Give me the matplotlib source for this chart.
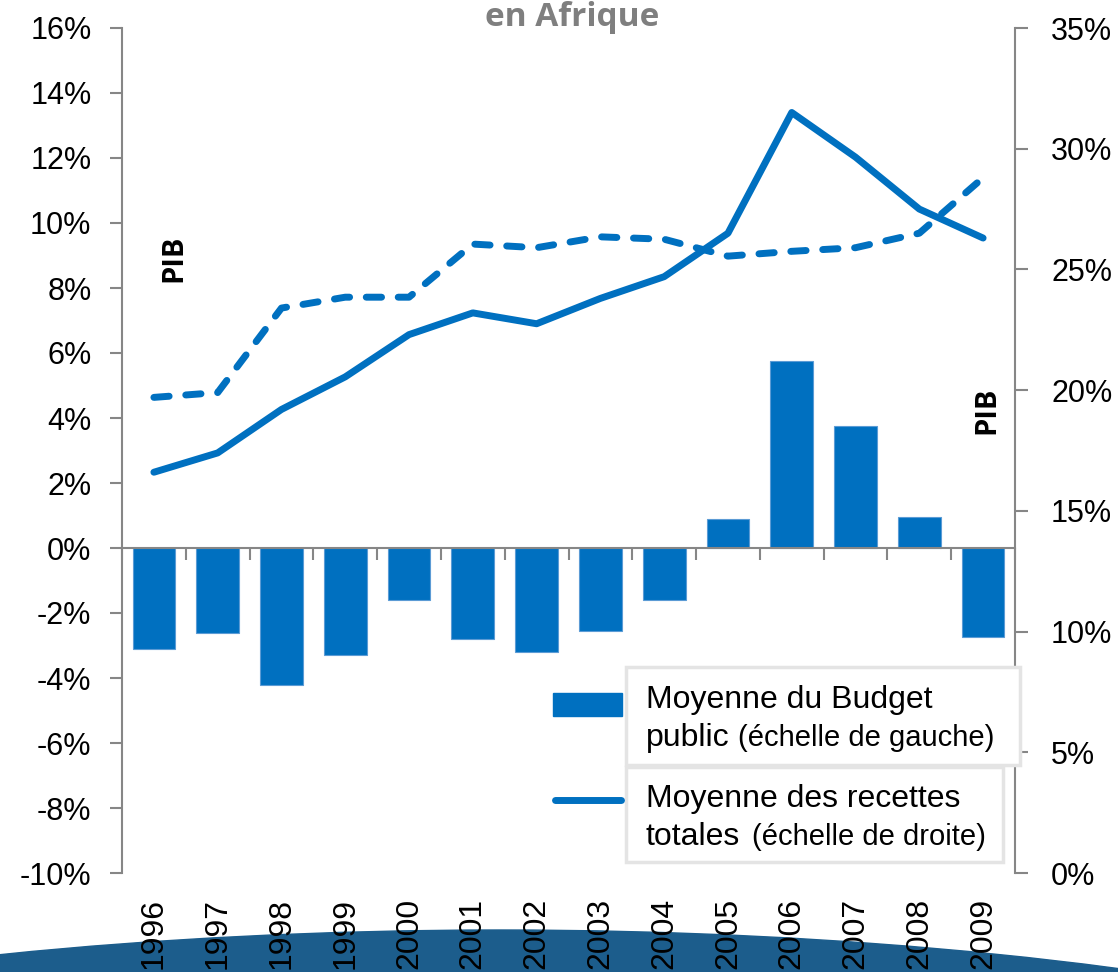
import matplotlib
matplotlib.use('Agg')
import matplotlib.pyplot as plt
from matplotlib.patches import Rectangle, Ellipse
from matplotlib.lines import Line2D
import numpy as np

plt.rcParams['font.family'] = ['Liberation Sans', 'DejaVu Sans']

years = ['1996', '1997', '1998', '1999', '2000', '2001', '2002',
         '2003', '2004', '2005', '2006', '2007', '2008', '2009']
budget = [-3.1, -2.6, -4.2, -3.3, -1.6, -2.8, -3.2,
          -2.55, -1.6, 0.9, 5.75, 3.75, 0.95, -2.75]
recettes = [16.6, 17.4, 19.2, 20.55, 22.3, 23.2, 22.75,
            23.8, 24.7, 26.5, 31.5, 29.65, 27.5, 26.3]
recettes_2 = [19.7, 19.9, 23.4, 23.85, 23.85, 26.05, 25.9,
              26.35, 26.25, 25.55, 25.75, 25.9, 26.5, 28.8]

blue = '#0070C0'
grey = '#868686'
W, H = 1118, 972

def fx(px):
    return px / W

def fy(py):
    return 1 - py / H

fig = plt.figure(figsize=(W / 100, H / 100), dpi=100)

# fond décoratif en bas
fig.add_artist(Ellipse((fx(500), fy(930 + 320)), 2 * 1300 / W, 2 * 320 / H,
                       transform=fig.transFigure, color='#1c5d8c', zorder=-1))

ax = fig.add_axes([fx(122), fy(873), fx(1015) - fx(122), fy(28) - fy(873)])
x = np.arange(len(years))
ax.bar(x, budget, width=0.67, color=blue, edgecolor='#5b9bd5', linewidth=0.8, zorder=2)
ax.set_xlim(-0.5, len(years) - 0.5)
ax.set_ylim(-10, 16)
ax.set_yticks(np.arange(-10, 17, 2))
ax.yaxis.set_major_formatter(lambda v, p: f'{v:.0f}%')
for s in ['top', 'right']:
    ax.spines[s].set_visible(False)
ax.spines['bottom'].set_position(('data', 0))
for s in ['left', 'bottom']:
    ax.spines[s].set_color(grey)
    ax.spines[s].set_linewidth(1.5)
ax.set_xticks(np.arange(-0.5, len(years), 1))
ax.set_xticklabels([])
ax.tick_params(axis='x', direction='out', length=8.5, color=grey, width=1.5)
ax.tick_params(axis='y', direction='out', length=9, color=grey, width=1.5,
               labelsize=22, pad=13)

sec = ax.secondary_xaxis(0.0)
sec.set_xticks(x, labels=years)
sec.tick_params(length=0, labelrotation=90, labelsize=23, pad=18)
sec.spines['bottom'].set_visible(False)

ax2 = ax.twinx()
ax2.set_ylim(0, 35)
ax2.set_yticks(np.arange(0, 36, 5))
ax2.yaxis.set_major_formatter(lambda v, p: f'{v:.0f}%')
for s in ['top', 'left', 'bottom']:
    ax2.spines[s].set_visible(False)
ax2.spines['right'].set_color(grey)
ax2.spines['right'].set_linewidth(1.5)
ax2.tick_params(axis='y', direction='out', length=9, color=grey, width=1.5,
                labelsize=22, pad=17)
ax2.plot(x, recettes_2, color=blue, lw=5, linestyle=(0, (2.2, 2.4)),
         dash_capstyle='round', solid_joinstyle='round')
ax2.plot(x, recettes, color=blue, lw=5, solid_capstyle='round', solid_joinstyle='round')

# titre (coupé en haut)
fig.text(fx(572), fy(26), 'en Afrique', ha='center', va='baseline',
         fontsize=24, fontweight='bold', color='#7f7f7f', family=['Open Sans', 'DejaVu Sans'])

fig.text(fx(174), fy(258), 'PIB', rotation=90, ha='center', va='center',
         fontsize=21, fontweight='bold', family=['Open Sans', 'DejaVu Sans'])
fig.text(fx(987), fy(410), 'PIB', rotation=90, ha='center', va='center',
         fontsize=21, fontweight='bold', family=['Open Sans', 'DejaVu Sans'])

# légende
edge = '#e4e4e4'
fig.add_artist(Rectangle((fx(626), fy(765)), fx(1020) - fx(626), fy(667) - fy(765),
                         transform=fig.transFigure, facecolor='white', edgecolor=edge,
                         lw=2.5, zorder=5))
fig.add_artist(Rectangle((fx(626), fy(862)), fx(1003) - fx(626), fy(767) - fy(862),
                         transform=fig.transFigure, facecolor='white', edgecolor=edge,
                         lw=2.5, zorder=5))
fig.add_artist(Rectangle((fx(553), fy(716)), fx(622) - fx(553), fy(693) - fy(716),
                         transform=fig.transFigure, color=blue, zorder=5))
fig.add_artist(Line2D([fx(555), fx(621)], [fy(800), fy(800)], transform=fig.transFigure,
                      color=blue, lw=5, solid_capstyle='round', zorder=5))

big, small = 23, 21
fig.text(fx(646), fy(708), 'Moyenne du Budget', fontsize=big, va='baseline', zorder=6)
fig.text(fx(646), fy(746), 'public', fontsize=big, va='baseline', zorder=6)
fig.text(fx(738), fy(746), '(échelle de gauche)', fontsize=small, va='baseline', zorder=6)
fig.text(fx(646), fy(807), 'Moyenne des recettes', fontsize=big, va='baseline', zorder=6)
fig.text(fx(646), fy(845), 'totales', fontsize=big, va='baseline', zorder=6)
fig.text(fx(752), fy(845), '(échelle de droite)', fontsize=small, va='baseline', zorder=6)

fig.savefig('out.png', dpi=100)
